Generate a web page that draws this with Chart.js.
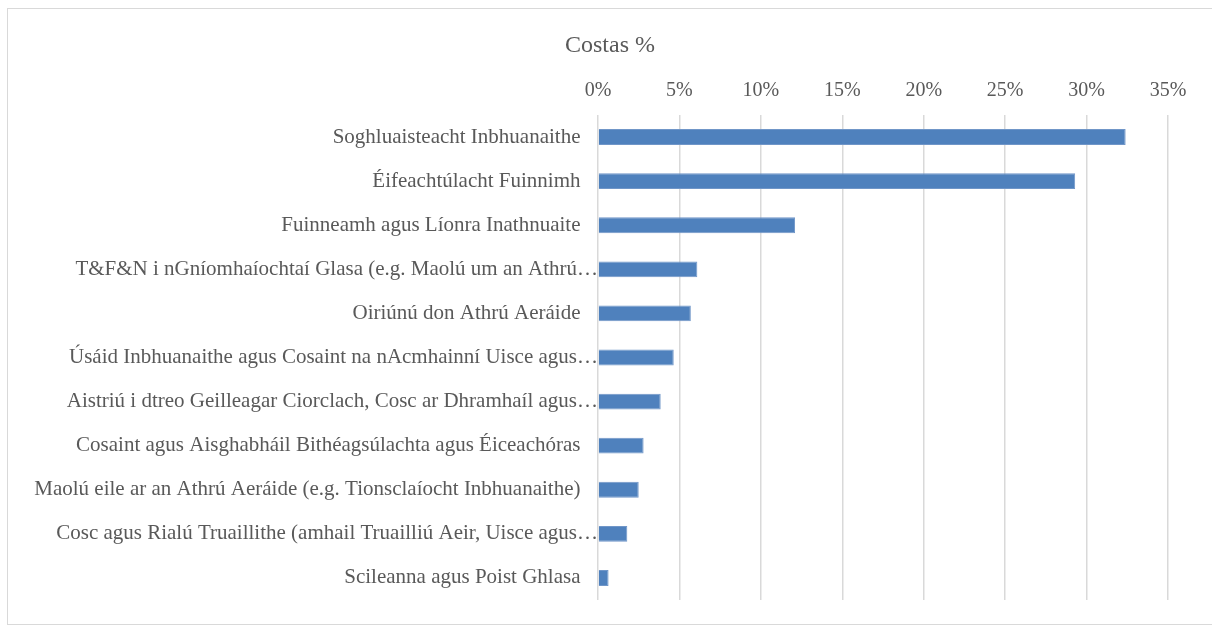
<!DOCTYPE html>
<html>
<head>
<meta charset="utf-8">
<script src="https://cdn.jsdelivr.net/npm/chart.js@4/dist/chart.umd.min.js"></script>
<style>
  html, body { margin: 0; padding: 0; background: #fff; width: 1212px; height: 626px; overflow: hidden; }
  #box { position: absolute; left: 7px; top: 8px; width: 1204px; height: 615px; border: 1px solid #d9d9d9; background: #fff; }
  canvas { display: block; }
</style>
</head>
<body>
<div id="box"><canvas id="c" width="1204" height="615"></canvas></div>
<script>
const categories = [
  "Soghluaisteacht Inbhuanaithe",
  "Éifeachtúlacht Fuinnimh",
  "Fuinneamh agus Líonra Inathnuaite",
  "T&F&N i nGníomhaíochtaí Glasa (e.g. Maolú um an Athrú…",
  "Oiriúnú don Athrú Aeráide",
  "Úsáid Inbhuanaithe agus Cosaint na nAcmhainní Uisce agus…",
  "Aistriú i dtreo Geilleagar Ciorclach, Cosc ar Dhramhaíl agus…",
  "Cosaint agus Aisghabháil Bithéagsúlachta agus Éiceachóras",
  "Maolú eile ar an Athrú Aeráide (e.g. Tionsclaíocht Inbhuanaithe)",
  "Cosc agus Rialú Truaillithe (amhail Truailliú Aeir, Uisce agus…",
  "Scileanna agus Poist Ghlasa"
];
const costValues = [32.4, 29.3, 12.1, 6.1, 5.7, 4.65, 3.85, 2.8, 2.5, 1.8, 0.65];
const tickValues = [0, 5, 10, 15, 20, 25, 30, 35];
const chartTitle = "Costas %";

const FONT = "'Liberation Serif', 'Times New Roman', serif";
const TEXT = "#595959";

// let long category labels extend into the left padding instead of being clipped
const unclipLabels = {
  id: "unclipLabels",
  afterLayout(chart) { chart.scales.y.left = 0; }
};

new Chart(document.getElementById("c"), {
  type: "bar",
  data: {
    labels: categories,
    datasets: [{
      data: costValues,
      backgroundColor: "#4f81bd",
      borderColor: "#7096c8",
      borderWidth: 1,
      barPercentage: 0.36,
      categoryPercentage: 1.0
    }]
  },
  plugins: [unclipLabels],
  options: {
    indexAxis: "y",
    responsive: false,
    animation: false,
    devicePixelRatio: 1,
    layout: { padding: { left: 44, right: 44, top: 0, bottom: 24 } },
    plugins: {
      legend: { display: false },
      tooltip: { enabled: false },
      title: {
        display: true,
        text: chartTitle,
        color: TEXT,
        font: { family: FONT, size: 24, weight: "normal" },
        padding: { top: 22, bottom: 10 }
      }
    },
    scales: {
      x: {
        position: "top",
        min: 0,
        max: 35,
        afterBuildTicks: (s) => { s.ticks = tickValues.map(v => ({ value: v })); },
        afterFit: (s) => { s.height = 106 - (22 + 28.8 + 10); },
        ticks: {
          color: TEXT,
          font: { family: FONT, size: 20 },
          padding: 12,
          callback: (v) => v + "%"
        },
        grid: { color: "#d9d9d9", lineWidth: 1.5, drawTicks: false },
        border: { display: false }
      },
      y: {
        afterFit: (s) => { s.width = 546; s.paddingTop = 0; s.paddingBottom = 0; },
        ticks: {
          color: TEXT,
          font: { family: FONT, size: 21 },
          padding: 0,
          autoSkip: false,
          callback: function (v) {
            const t = this.getLabelForValue(v);
            return t.endsWith("…") ? t : t + "   \u200A";
          }
        },
        grid: { display: false, drawTicks: false },
        border: { display: false }
      }
    }
  }
});
</script>
</body>
</html>
